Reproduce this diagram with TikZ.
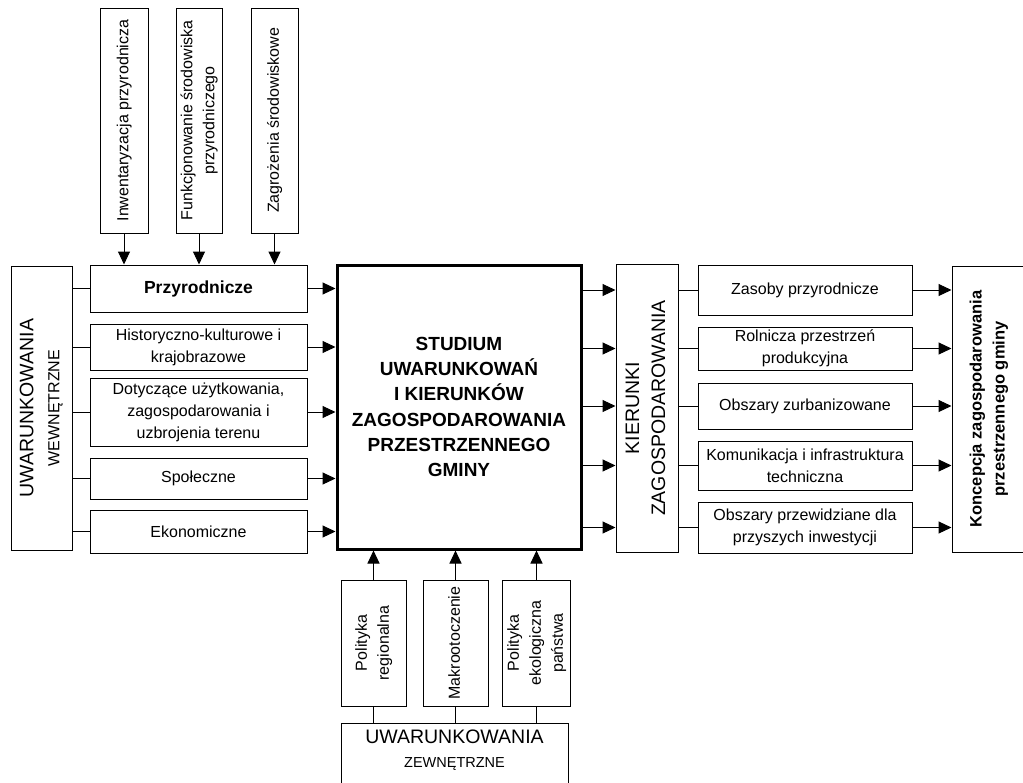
\documentclass[tikz,border=0pt]{standalone}
\usepackage{fontspec}
\setmainfont{Liberation Sans}
\usetikzlibrary{arrows.meta,positioning}
\newcommand{\txtsmall}{\fontsize{16}{22}\selectfont}
\newcommand{\txtbig}{\fontsize{19.5}{25}\selectfont}
\newcommand{\vtext}[1]{\rotatebox{90}{\begin{tabular}{@{}c@{}}#1\end{tabular}}}

\begin{document}
\begin{tikzpicture}[
  x=1pt, y=-1pt,
  box/.style={draw, line width=1pt, align=center, inner sep=1pt, font=\txtsmall},
  lsub/.style={box, minimum width=217},
  rsub/.style={box, minimum width=214},
  topbox/.style={box, minimum height=225},
  botbox/.style={box, minimum height=126, minimum width=65},
  arrow/.style={line width=1pt, -{Triangle[length=13pt, width=12pt]}},
  link/.style={line width=1pt}
]
\useasboundingbox (0,0) rectangle (1023,782);

% centre
\node[draw, line width=3pt, minimum width=244, minimum height=284, align=center,
  font=\fontsize{19}{25.3}\selectfont\bfseries] (studium) at (459,407)
  {STUDIUM\\UWARUNKOWAŃ\\I KIERUNKÓW\\ZAGOSPODAROWANIA\\PRZESTRZENNEGO\\GMINY};

% left side
\node[box, minimum width=61, minimum height=284, font=\txtbig] (uww) at (41.5,408)
  {\vtext{UWARUNKOWANIA\\[1pt]{\txtsmall WEWNĘTRZNE}}};
\node[lsub, minimum height=47, font=\fontsize{17.5}{22}\selectfont\bfseries] (przyr) at (198.5,288.5) {Przyrodnicze};
\node[lsub, minimum height=46, below=11pt of przyr] (hist) {Historyczno-kulturowe i\\krajobrazowe};
\node[lsub, minimum height=68, below=7pt of hist] (dot) {Dotyczące użytkowania,\\zagospodarowania i\\uzbrojenia terenu};
\node[lsub, minimum height=41, below=11pt of dot] (spol) {Społeczne};
\node[lsub, minimum height=43, below=10pt of spol] (ekon) {Ekonomiczne};

% top
\node[topbox, minimum width=48] (inw) at (124,120.5) {\vtext{Inwentaryzacja przyrodnicza}};
\node[topbox, minimum width=46] (funk) at (199,120.5) {\vtext{Funkcjonowanie środowiska\\przyrodniczego}};
\node[topbox, minimum width=47] (zagr) at (274.5,120.5) {\vtext{Zagrożenia środowiskowe}};

% bottom
\node[botbox] (polreg) at (373.5,643) {\vtext{Polityka\\regionalna}};
\node[botbox] (makro) at (455.5,643) {\vtext{Makrootoczenie}};
\node[botbox, minimum width=67] (poleko) at (536.5,643) {\vtext{Polityka\\ekologiczna\\państwa}};
\node[box, minimum width=227, minimum height=80, anchor=north] (uwz) at (454.5,723) {};
\node[align=center, font=\txtbig, inner sep=0pt] (uwztxt) at (454.5,750)
  {UWARUNKOWANIA\\[-1pt]{\fontsize{14.5}{18}\selectfont ZEWNĘTRZNE}};

% right side
\node[box, minimum width=62, minimum height=288, font=\txtbig] (kier) at (647,408)
  {\vtext{KIERUNKI\\[1pt]ZAGOSPODAROWANIA}};
\node[rsub, minimum height=50] (zas) at (805,290) {Zasoby przyrodnicze};
\node[rsub, minimum height=43, below=11pt of zas] (roln) {Rolnicza przestrzeń\\produkcyjna};
\node[rsub, minimum height=46, below=12pt of roln] (urb) {Obszary zurbanizowane};
\node[rsub, minimum height=49, below=11pt of urb] (kom) {Komunikacja i infrastruktura\\techniczna};
\node[rsub, minimum height=51, below=11pt of kom] (inwest) {Obszary przewidziane dla\\przyszych inwestycji};
\node[box, minimum width=73, minimum height=286, font=\fontsize{16.5}{23}\selectfont\bfseries] (konc) at (988.5,409)
  {\vtext{Koncepcja zagospodarowania\\przestrzennego gminy}};

% connectors
\foreach \s in {przyr,hist,dot,spol,ekon} {
  \draw[link] (\s.west -| uww.east) -- (\s.west);
  \draw[arrow] (\s.east) -- (\s.east -| studium.west);
}
\foreach \t in {inw,funk,zagr}
  \draw[arrow] (\t.south) -- (\t.south |- przyr.north);
\foreach \t in {polreg,makro,poleko} {
  \draw[arrow] (\t.north) -- (\t.north |- studium.south);
  \draw[link] (\t.south) -- (\t.south |- uwz.north);
}
\foreach \r in {zas,roln,urb,kom,inwest} {
  \draw[arrow] (studium.east |- \r.west) -- (kier.west |- \r.west);
  \draw[link] (kier.east |- \r.west) -- (\r.west);
  \draw[arrow] (\r.east) -- (\r.east -| konc.west);
}
\end{tikzpicture}
\end{document}
